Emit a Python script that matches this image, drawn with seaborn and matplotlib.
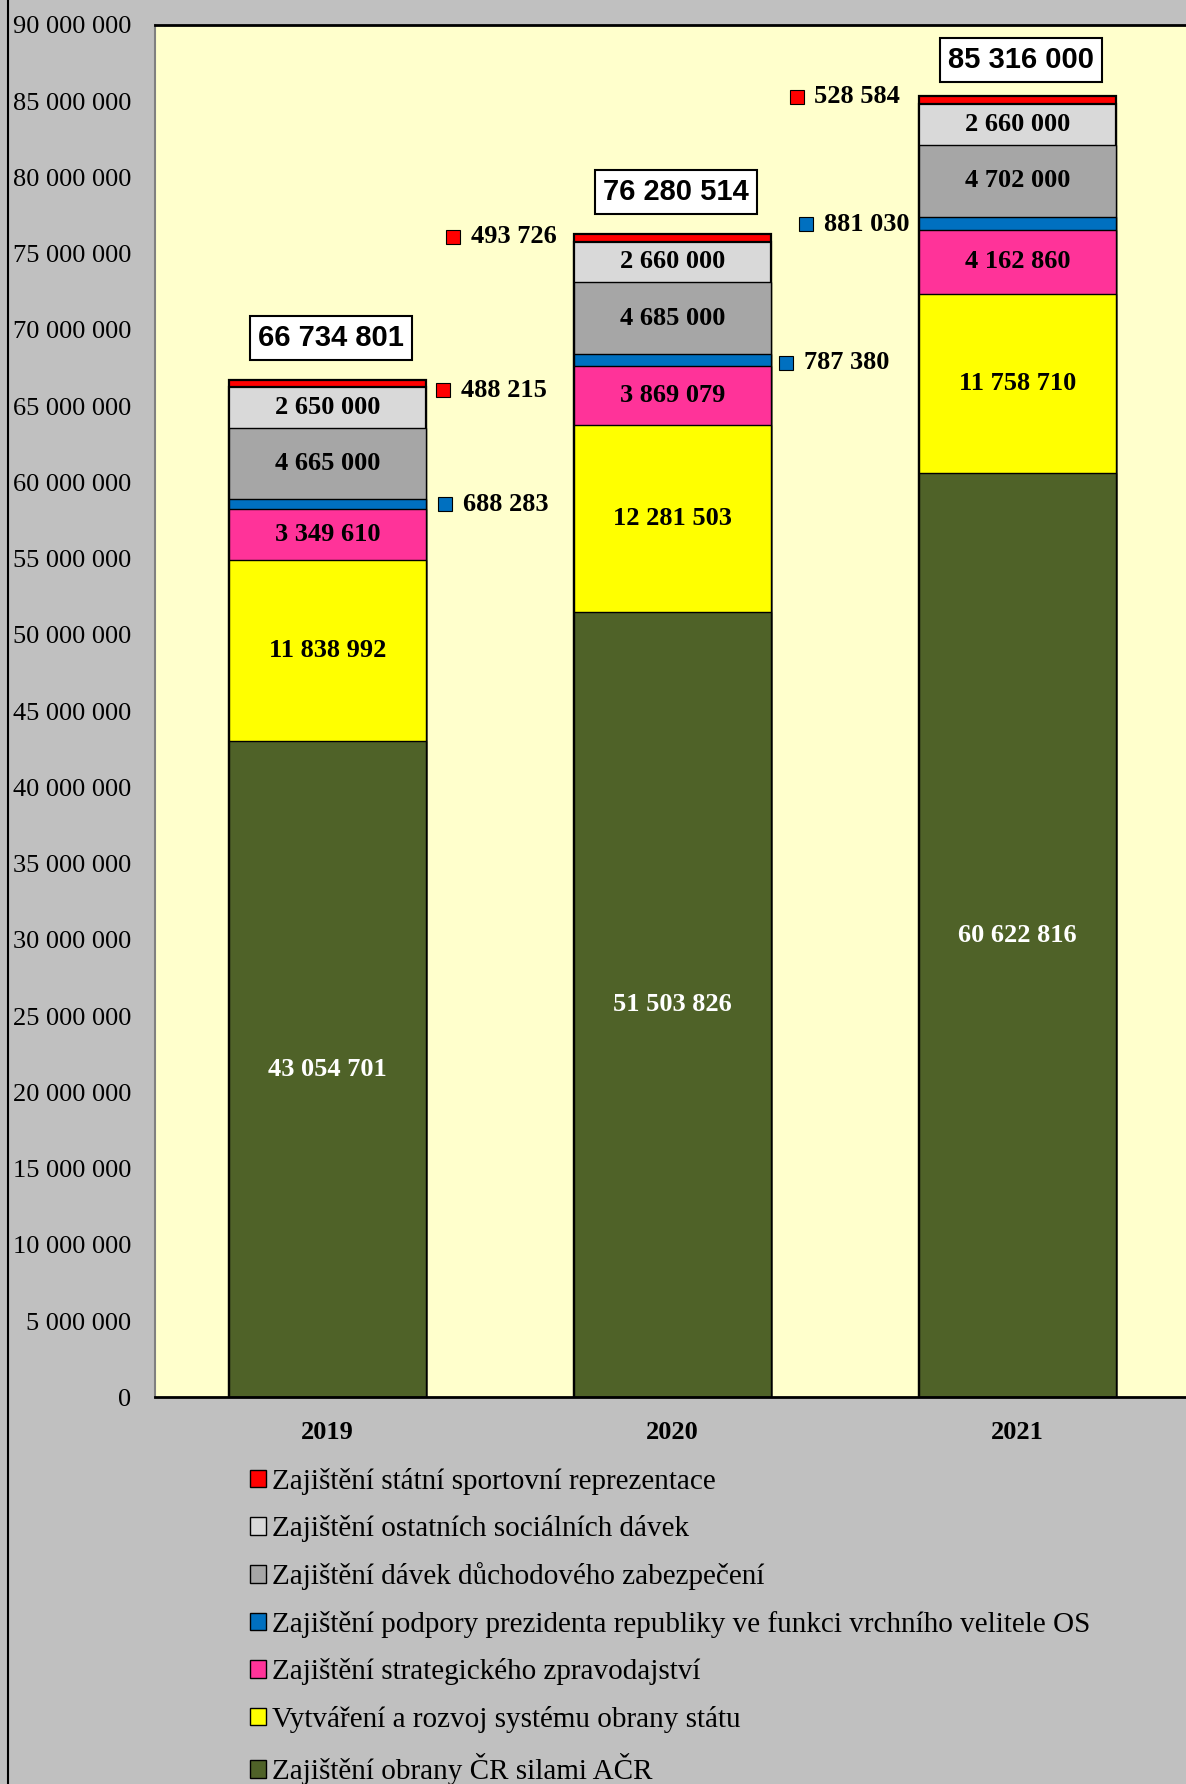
import pandas as pd
import matplotlib.pyplot as plt
import seaborn as sns
from matplotlib.patches import Patch, Rectangle

years = ['2019', '2020', '2021']
series = [
    'Zajištění obrany ČR silami AČR',
    'Vytváření a rozvoj systému obrany státu',
    'Zajištění strategického zpravodajství',
    'Zajištění podpory prezidenta republiky ve funkci vrchního velitele OS',
    'Zajištění dávek důchodového zabezpečení',
    'Zajištění ostatních sociálních dávek',
    'Zajištění státní sportovní reprezentace',
]
obrana = [43054701, 51503826, 60622816]
rozvoj = [11838992, 12281503, 11758710]
zpravodajstvi = [3349610, 3869079, 4162860]
prezident = [688283, 787380, 881030]
duchody = [4665000, 4685000, 4702000]
socialni = [2650000, 2660000, 2660000]
sport = [488215, 493726, 528584]
totals = [66734801, 76280514, 85316000]

colors = ['#4F6228', '#FFFF00', '#FF3399', '#0070C0', '#A6A6A6', '#D9D9D9', '#FF0000']
values = [obrana, rozvoj, zpravodajstvi, prezident, duchody, socialni, sport]

rows = []
for s, vals in zip(series, values):
    for y, v in zip(years, vals):
        rows.append({'rok': y, 'polozka': s, 'hodnota': v})
df = pd.DataFrame(rows)
df['kum'] = df.groupby('rok')['hodnota'].cumsum()
df['spodek'] = df['kum'] - df['hodnota']

sns.set_style('white')
plt.rcParams['font.family'] = ['Liberation Serif', 'DejaVu Serif']
plt.rcParams['text.color'] = 'black'
plt.rcParams['xtick.color'] = 'black'
plt.rcParams['ytick.color'] = 'black'


def fmt(v):
    return f'{v:,.0f}'.replace(',', ' ')


fig = plt.figure(figsize=(11.86, 17.84), dpi=100, facecolor='#C0C0C0')
ax = fig.add_axes([155 / 1186, 0.2167, 1035 / 1186, 0.986 - 0.2167])
ax.set_facecolor('#FFFFCC')

# stacked bars: draw cumulative heights from the top layer downwards
for s, c in reversed(list(zip(series, colors))):
    sub = df[df['polozka'] == s]
    lw = 1.6 if s in (series[5], series[6]) else 1
    sns.barplot(data=sub, x='rok', y='kum', color=c, saturation=1, width=0.57,
                edgecolor='black', linewidth=lw, ax=ax, order=years)

ax.set_xlim(-0.5, 2.5)
ax.set_ylim(0, 90000000)
ticks = list(range(0, 90000001, 5000000))
ax.set_yticks(ticks)
ax.set_yticklabels([fmt(v) for v in ticks], fontsize=19)
ax.set_xticks(range(3))
ax.set_xticklabels(years, fontsize=19, fontweight='bold')
ax.tick_params(axis='y', length=0, pad=17)
ax.tick_params(axis='x', length=0, pad=17)
ax.set_xlabel('')
ax.set_ylabel('')
ax.spines['left'].set_color('#808080')
ax.spines['left'].set_linewidth(1.5)
ax.spines['top'].set_color('black')
ax.spines['top'].set_linewidth(2)
ax.spines['bottom'].set_color('black')
ax.spines['bottom'].set_linewidth(2)
ax.spines['right'].set_visible(False)

# labels inside segments
inside = series[:3] + series[4:6]
for i, y in enumerate(years):
    for _, r in df[(df['rok'] == y) & (df['polozka'].isin(inside))].iterrows():
        barva = 'white' if r['polozka'] == series[0] else 'black'
        ax.text(i, r['spodek'] + r['hodnota'] / 2, fmt(r['hodnota']),
                ha='center', va='center', fontsize=19, fontweight='bold', color=barva)

# small segments labelled outside with a square key
red_x = [0.336, 0.365, 1.36]
blue_x = [0.342, 1.33, 1.388]
red_y = [66040000, 76120000, 85300000]
blue_y = [58580000, 67840000, 76940000]
for i in range(3):
    for mx, my, val, c in [(red_x[i], red_y[i], sport[i], colors[6]),
                           (blue_x[i], blue_y[i], prezident[i], colors[3])]:
        ax.plot(mx, my, marker='s', markersize=9.5, color=c, markeredgecolor='black',
                markeredgewidth=0.8, linestyle='none')
        ax.text(mx + 0.05, my, fmt(val), ha='left', va='center',
                fontsize=19, fontweight='bold')

# totals in boxes
box_off = [2740000, 2750000, 2370000]
for i, t in enumerate(totals):
    ax.text(i + 0.01, t + box_off[i], fmt(t), ha='center', va='center',
            fontsize=21, fontweight='bold', family=['Liberation Sans', 'DejaVu Sans'],
            bbox=dict(boxstyle='square,pad=0.28', facecolor='white', edgecolor='black',
                      linewidth=1.5))

handles = [Patch(facecolor=c, edgecolor='black', linewidth=1) for c in reversed(colors)]
leg = fig.legend(handles, list(reversed(series)), loc='upper left',
                 bbox_to_anchor=(238 / 1186, 1 - 1456 / 1784), frameon=False,
                 fontsize=21, handlelength=0.55, handleheight=0.55, handletextpad=0.2,
                 labelspacing=0.7, borderaxespad=0)

# outer chart border (only the left edge is visible)
fig.patches.append(Rectangle((8 / 1186, -0.1), 1.2, 1.2, transform=fig.transFigure,
                             fill=False, edgecolor='black', linewidth=1.5))

plt.savefig('out.png', dpi=100, facecolor=fig.get_facecolor())
